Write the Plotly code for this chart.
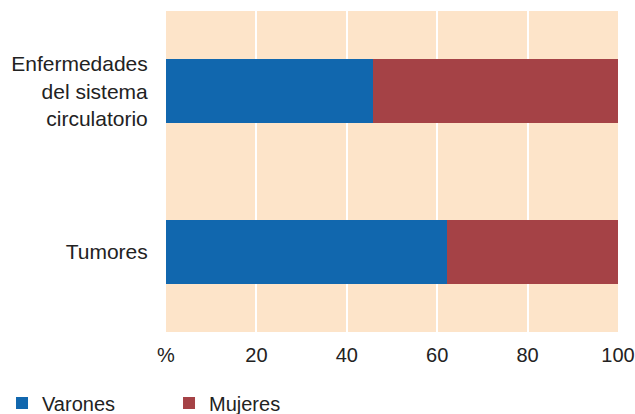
import plotly.graph_objects as go

categories = ["Enfermedades<br>del sistema<br>circulatorio", "Tumores"]
varones = [45.7, 62.2]
mujeres = [54.3, 37.8]
tick_vals = [0, 20, 40, 60, 80, 100]
tick_labels = ["%", "20", "40", "60", "80", "100"]

BLUE = "#1167AE"
RED = "#A54246"
BG = "#FDE4C9"
FONT = "Liberation Sans, Arial, sans-serif"

fig = go.Figure()
fig.add_trace(go.Bar(y=categories, x=varones, orientation="h", marker=dict(color=BLUE, line=dict(width=0)),
                     width=0.4, showlegend=False, name="Varones"))
fig.add_trace(go.Bar(y=categories, x=mujeres, orientation="h", marker=dict(color=RED, line=dict(width=0)),
                     width=0.4, showlegend=False, name="Mujeres"))
for name, col in [("Varones", BLUE), ("Mujeres", RED)]:
    fig.add_trace(go.Scatter(x=[None], y=[None], mode="markers", name=name,
                             marker=dict(symbol="square", size=16, color=col)))

fig.update_layout(
    barmode="stack",
    width=635, height=414,
    margin=dict(l=166, r=17, t=11, b=82, autoexpand=False),
    paper_bgcolor="white",
    plot_bgcolor=BG,
    font=dict(family=FONT, size=20, color="#222222"),
    xaxis=dict(range=[0, 100], tickvals=tick_vals, ticktext=tick_labels, automargin=False,
               showgrid=True, gridcolor="white", gridwidth=2, zeroline=False,
               ticks="outside", ticklen=5, tickcolor="rgba(0,0,0,0)", showline=False),
    yaxis=dict(categoryorder="array", categoryarray=categories, autorange="reversed", automargin=False,
               tickfont=dict(size=21),
               ticks="outside", ticklen=13, tickcolor="rgba(0,0,0,0)", showgrid=False, zeroline=False),
    legend=dict(orientation="h", xref="paper", yref="paper", x=-0.3628, y=-0.2212,
                xanchor="left", yanchor="middle", entrywidth=122, entrywidthmode="pixels",
                traceorder="normal",
                font=dict(size=20), itemsizing="constant", bgcolor="rgba(0,0,0,0)"),
    showlegend=True,
)
fig.write_html("out.html", config={"displayModeBar": False},
               post_script="document.body.style.margin='0';document.body.style.overflow='hidden';")
